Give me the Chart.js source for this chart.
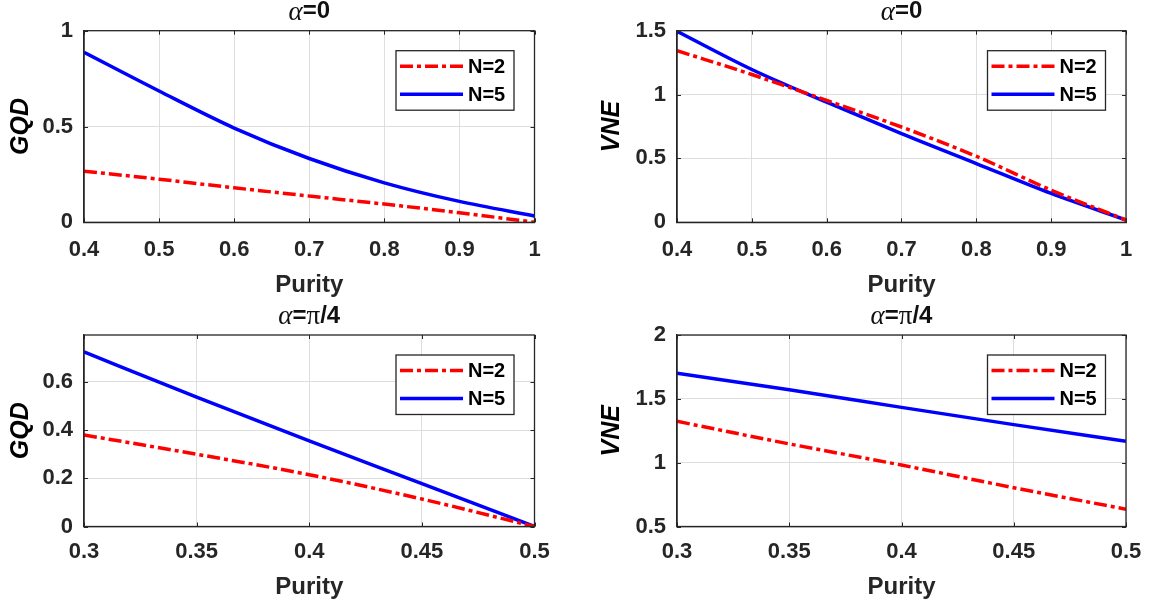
<!DOCTYPE html>
<html><head><meta charset="utf-8">
<script src="https://cdn.jsdelivr.net/npm/chart.js@4/dist/chart.umd.min.js"></script>
<style>
html,body{margin:0;padding:0;background:#fff;}
body{width:1165px;height:605px;position:relative;overflow:hidden;}
canvas{position:absolute;}
</style></head>
<body>
<canvas id="c1" width="580" height="300" style="left:0;top:0"></canvas>
<canvas id="c2" width="585" height="300" style="left:580px;top:0"></canvas>
<canvas id="c3" width="580" height="305" style="left:0;top:300px"></canvas>
<canvas id="c4" width="585" height="305" style="left:580px;top:300px"></canvas>
<script>
// ---- data ----
const purityA = [0.4, 0.5, 0.6, 0.7, 0.8, 0.9, 1.0];
const gqdA_N2 = [0.267, 0.225, 0.180, 0.137, 0.095, 0.050, 0.000];
const gqdA_N5 = [0.887, 0.685, 0.492, 0.333, 0.206, 0.109, 0.033];
const vneA_N2 = [1.344, 1.157, 0.954, 0.746, 0.517, 0.252, 0.018];
const vneA_N5 = [1.495, 1.196, 0.940, 0.694, 0.460, 0.226, 0.018];

const purityB = [0.3, 0.35, 0.4, 0.45, 0.5];
const gqdB_N2 = [0.380, 0.300, 0.215, 0.114, 0.000];
const gqdB_N5 = [0.725, 0.537, 0.355, 0.178, 0.000];
const vneB_N2 = [1.324, 1.147, 0.981, 0.804, 0.635];
const vneB_N5 = [1.700, 1.571, 1.433, 1.298, 1.168];

const xTicksA = [0.4, 0.5, 0.6, 0.7, 0.8, 0.9, 1];
const xTicksB = [0.3, 0.35, 0.4, 0.45, 0.5];
const yTicksGqdA = [0, 0.5, 1];
const yTicksVneA = [0, 0.5, 1, 1.5];
const yTicksGqdB = [0, 0.2, 0.4, 0.6];
const yTicksVneB = [0.5, 1, 1.5, 2];

const seriesLabels = ['N=2', 'N=5'];
const xLabel = 'Purity';
const yLabels = ['GQD', 'VNE'];
const titleA = [['α','serif-it'], ['=0','sans']];
const titleB = [['α','serif-it'], ['=','sans'], ['π','serif'], ['/4','sans']];

// ---- styling ----
const DARK = '#262626';
const GRID = '#dedede';
const RED = '#ff0000';
const BLUE = '#0000ff';
const SANS = '"Liberation Sans", Arial, sans-serif';
const SERIF = '"Liberation Serif", "Times New Roman", serif';

function segFont(kind, size) {
  if (kind === 'serif-it') return 'italic ' + (size + 3) + 'px ' + SERIF;
  if (kind === 'serif') return (size + 3) + 'px ' + SERIF;
  return 'bold ' + size + 'px ' + SANS;
}

const decorPlugin = {
  id: 'decor',
  afterDatasetsDraw(chart, args, opts) {
    const ctx = chart.ctx;
    const a = chart.chartArea;
    const xs = chart.scales.x, ys = chart.scales.y;
    ctx.save();
    // inward tick marks
    ctx.strokeStyle = DARK; ctx.lineWidth = 1;
    ctx.beginPath();
    xs.ticks.forEach(t => {
      const px = Math.round(xs.getPixelForValue(t.value)) + 0.5;
      ctx.moveTo(px, a.bottom); ctx.lineTo(px, a.bottom - 4);
      ctx.moveTo(px, a.top); ctx.lineTo(px, a.top + 4);
    });
    ys.ticks.forEach(t => {
      const py = Math.round(ys.getPixelForValue(t.value)) + 0.5;
      ctx.moveTo(a.left, py); ctx.lineTo(a.left + 4, py);
      ctx.moveTo(a.right, py); ctx.lineTo(a.right - 4, py);
    });
    ctx.stroke();
    // box
    ctx.strokeStyle = DARK; ctx.lineWidth = 1.3;
    ctx.strokeRect(a.left, a.top, a.right - a.left, a.bottom - a.top);

    // title
    const segs = opts.title;
    const size = 24;
    let total = 0;
    segs.forEach(s => { ctx.font = segFont(s[1], size); total += ctx.measureText(s[0]).width; });
    let x = (a.left + a.right) / 2 - total / 2;
    const ty = a.top - 19;
    ctx.fillStyle = '#111';
    ctx.textBaseline = 'middle';
    ctx.textAlign = 'left';
    segs.forEach(s => {
      ctx.font = segFont(s[1], size);
      ctx.fillText(s[0], x, ty + (s[1] === 'sans' ? 0 : 1));
      x += ctx.measureText(s[0]).width;
    });

    // legend
    const bx = a.right - 138.5, by = a.top + 20, bw = 118, bh = 59.5;
    ctx.fillStyle = '#fff';
    ctx.fillRect(bx, by, bw, bh);
    ctx.strokeStyle = DARK; ctx.lineWidth = 1.3;
    ctx.strokeRect(bx, by, bw, bh);
    chart.data.datasets.forEach((ds, i) => {
      const ly = by + 15.5 + i * 28;
      ctx.strokeStyle = ds.borderColor;
      ctx.lineWidth = ds.borderWidth;
      ctx.setLineDash(ds.borderDash || []);
      ctx.beginPath();
      ctx.moveTo(bx + 4, ly); ctx.lineTo(bx + 67, ly);
      ctx.stroke();
      ctx.setLineDash([]);
      ctx.fillStyle = '#000';
      ctx.font = 'bold 20px ' + SANS;
      ctx.textBaseline = 'middle';
      ctx.fillText(ds.label, bx + 72, ly + 1);
    });
    ctx.restore();
  }
};

function pts(xs, ys) { return xs.map((x, i) => ({x: x, y: ys[i]})); }

function makePanel(id, p) {
  new Chart(document.getElementById(id), {
    type: 'line',
    data: {
      datasets: [
        { label: seriesLabels[0], data: pts(p.xs, p.n2), borderColor: RED, borderWidth: 3.5,
          borderDash: [13, 4, 4, 4], borderCapStyle: 'butt', pointRadius: 0, fill: false,
          cubicInterpolationMode: 'monotone' },
        { label: seriesLabels[1], data: pts(p.xs, p.n5), borderColor: BLUE, borderWidth: 3.5,
          pointRadius: 0, fill: false, cubicInterpolationMode: 'monotone' }
      ]
    },
    options: {
      responsive: false,
      animation: false,
      events: [],
      layout: { padding: { top: p.top, right: p.right, left: 0, bottom: 0 } },
      plugins: { legend: { display: false }, title: { display: false }, tooltip: { enabled: false },
                 decor: { title: p.title } },
      scales: {
        x: {
          type: 'linear', min: p.xTicks[0], max: p.xTicks[p.xTicks.length - 1],
          afterBuildTicks: s => { s.ticks = p.xTicks.map(v => ({ value: v })); },
          afterFit: s => { s.height = p.xH; },
          grid: { color: GRID, lineWidth: 1, drawTicks: false },
          border: { color: DARK, width: 1.3 },
          ticks: { color: DARK, padding: p.xTickPad, maxRotation: 0, autoSkip: false,
                   font: { family: SANS, size: 22, weight: 'bold' },
                   callback: v => String(v) },
          title: { display: true, text: xLabel, color: DARK,
                   font: { family: SANS, size: 24, weight: 'bold' },
                   padding: { top: 0, bottom: p.xTitlePad } }
        },
        y: {
          type: 'linear', min: p.yMin, max: p.yMax,
          afterBuildTicks: s => { s.ticks = p.yTicks.map(v => ({ value: v })); },
          afterFit: s => { s.width = p.yW; },
          grid: { color: GRID, lineWidth: 1, drawTicks: false },
          border: { color: DARK, width: 1.3 },
          ticks: { color: DARK, padding: 11, autoSkip: false,
                   font: { family: SANS, size: 22, weight: 'bold' },
                   callback: v => String(v) },
          title: { display: true, text: p.yLabel, color: '#000',
                   font: { family: SANS, size: 25, weight: 'bold', style: 'italic' },
                   padding: { top: p.yTitlePad, bottom: 0 } }
        }
      }
    },
    plugins: [decorPlugin]
  });
}

makePanel('c1', { xs: purityA, n2: gqdA_N2, n5: gqdA_N5, xTicks: xTicksA, yTicks: yTicksGqdA,
  yMin: 0, yMax: 1, yLabel: yLabels[0], title: titleA,
  top: 30.7, right: 45.5, yW: 84, xH: 77.7, xTickPad: 14, xTitlePad: 0.6, yTitlePad: 6.5 });
makePanel('c2', { xs: purityA, n2: vneA_N2, n5: vneA_N5, xTicks: xTicksA, yTicks: yTicksVneA,
  yMin: 0, yMax: 1.5, yLabel: yLabels[1], title: titleA,
  top: 30.7, right: 39, yW: 97, xH: 77.7, xTickPad: 14, xTitlePad: 0.6, yTitlePad: 17.5 });
makePanel('c3', { xs: purityB, n2: gqdB_N2, n5: gqdB_N5, xTicks: xTicksB, yTicks: yTicksGqdB,
  yMin: 0, yMax: 0.795, yLabel: yLabels[0], title: titleB,
  top: 35, right: 45.5, yW: 84, xH: 78.5, xTickPad: 12, xTitlePad: 3.6, yTitlePad: 6.5 });
makePanel('c4', { xs: purityB, n2: vneB_N2, n5: vneB_N5, xTicks: xTicksB, yTicks: yTicksVneB,
  yMin: 0.5, yMax: 2, yLabel: yLabels[1], title: titleB,
  top: 35, right: 39, yW: 97, xH: 78.5, xTickPad: 12, xTitlePad: 3.6, yTitlePad: 17.5 });
</script>
</body></html>
